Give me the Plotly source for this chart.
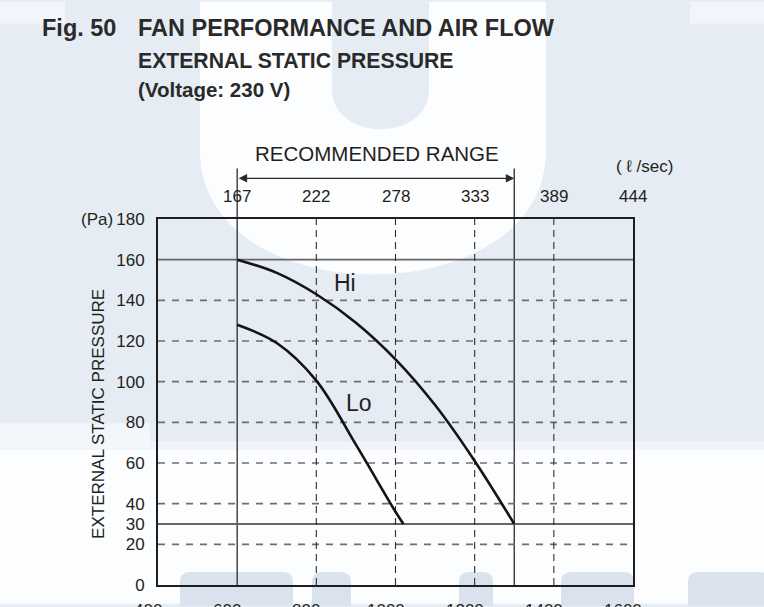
import plotly.graph_objects as go

# Fan curves: air flow (m3/h) against external static pressure (Pa)
hi_flow = [600, 700, 800, 900, 1000, 1100, 1200, 1300]
hi_pressure = [160, 153.5, 143, 129, 111, 88.5, 61, 30]
lo_flow = [600, 700, 800, 900, 1000, 1020]
lo_pressure = [128, 119, 100.5, 69, 36, 30]

# Axis ticks
flow_ticks = [400, 600, 800, 1000, 1200, 1400, 1600]
lsec_ticks = [600, 800, 1000, 1200, 1400, 1600]
lsec_labels = ["167", "222", "278", "333", "389", "444"]
pressure_ticks = [0, 20, 30, 40, 60, 80, 100, 120, 140, 160, 180]

# Reference lines
dashed_pressure = [20, 40, 60, 80, 100, 120, 140]
solid_pressure = [30, 160]
dashed_flow = [800, 1000, 1200, 1400]
recommended_range = [600, 1300]

W, H = 764, 607
ML, MR, MT, MB = 158, 131, 219, 19
PW, PH = W - ML - MR, H - MT - MB

BG = "#e5ecf4"
WHITE = "#fcfdfe"
BLOB = "#dae2ed"
INK = "#231f20"
FONT = "Liberation Sans, Arial, sans-serif"


def px(x):
    return (x - ML) / PW


def py(y):
    return (H - MB - y) / PH


def path(points_cmds):
    out = []
    for cmd, pts in points_cmds:
        coords = " ".join(f"{px(a):.4f},{py(b):.4f}" for a, b in pts)
        out.append(f"{cmd} {coords}" if coords else cmd)
    return " ".join(out)


shapes = []


def bg_path(p, color):
    shapes.append(dict(type="path", xref="paper", yref="paper", path=p,
                       fillcolor=color, line=dict(width=0), layer="below"))


def bg_rect(x0, y0, x1, y1, color):
    shapes.append(dict(type="rect", xref="paper", yref="paper",
                       x0=px(x0), x1=px(x1), y0=py(y0), y1=py(y1),
                       fillcolor=color, line=dict(width=0), layer="below"))


# pale background artwork
bg_rect(0, 450, W, H, WHITE)
bg_rect(0, 443, W, 452, "#f1f5f9")
bg_rect(0, 425, 150, 450, "#f3f6fa")
bg_rect(0, 0, 65, 22, "#f2f5f9")
bg_rect(690, 0, W, 22, "#f2f5f9")
bg_path(path([("M", [(200, 0)]), ("L", [(200, 150)]),
              ("C", [(200, 235), (290, 275), (373, 275)]),
              ("C", [(456, 275), (546, 235), (546, 150)]),
              ("L", [(546, 0)]), ("Z", [])]), WHITE)
bg_path(path([("M", [(332, 0)]), ("L", [(332, 88)]),
              ("C", [(332, 142), (429, 142), (429, 88)]),
              ("L", [(429, 0)]), ("Z", [])]), BG)
for x0, x1 in [(180, 293), (312, 351), (459, 493), (561, 634), (688, 770)]:
    bg_path(path([("M", [(x0, H + 2)]), ("L", [(x0, 586)]),
                  ("C", [(x0, 576), (x0 + 6, 575), (x0 + 12, 575)]),
                  ("L", [(x1 - 12, 575)]),
                  ("C", [(x1 - 6, 575), (x1, 576), (x1, 586)]),
                  ("L", [(x1, H + 2)]), ("Z", [])]), BLOB)

# recommended-range limits, running up to the arrow
for f in recommended_range:
    shapes.append(dict(type="line", xref="x", yref="paper", x0=f, x1=f,
                       y0=0, y1=py(168), line=dict(color="#2a2a2a", width=1.3),
                       layer="below"))

# grid
for p in dashed_pressure:
    shapes.append(dict(type="line", xref="x", yref="y", x0=400, x1=1600, y0=p, y1=p,
                       line=dict(color="#6e6e6e", width=1.6, dash="7px,7px"), layer="below"))
for p in solid_pressure:
    shapes.append(dict(type="line", xref="x", yref="y", x0=400, x1=1600, y0=p, y1=p,
                       line=dict(color="#666666", width=1.8), layer="below"))
for f in dashed_flow:
    shapes.append(dict(type="line", xref="x", yref="y", x0=f, x1=f, y0=0, y1=180,
                       line=dict(color="#2e2e2e", width=1.1, dash="7px,5px"), layer="below"))

fig = go.Figure()
fig.add_trace(go.Scatter(x=hi_flow, y=hi_pressure, mode="lines", name="Hi",
                         line=dict(color="#141414", width=2.6, shape="spline", smoothing=1),
                         hoverinfo="skip"))
fig.add_trace(go.Scatter(x=lo_flow, y=lo_pressure, mode="lines", name="Lo",
                         line=dict(color="#141414", width=2.6, shape="spline", smoothing=1),
                         hoverinfo="skip"))

ann = []


def text(x, y, s, size, xanchor="center", bold=False, xref="paper", yref="paper", **kw):
    ann.append(dict(x=x, y=y, xref=xref, yref=yref, text=f"<b>{s}</b>" if bold else s,
                    showarrow=False, xanchor=xanchor, yanchor="middle",
                    font=dict(family=FONT, size=size, color=kw.pop("color", INK)), **kw))


# headings
text(px(40), py(26), "Fig. 50", 23.5, xanchor="left", bold=True, color="#2a2a2a")
text(px(136), py(26), "FAN PERFORMANCE AND AIR FLOW", 23.5, xanchor="left", bold=True, color="#2a2a2a")
text(px(136), py(59.5), "EXTERNAL STATIC PRESSURE", 21.2, xanchor="left", bold=True, color="#2a2a2a")
text(px(136), py(88), "(Voltage: 230 V)", 20.5, xanchor="left", bold=True, color="#2a2a2a")

# recommended range label and arrow
text(px(377), py(153), "RECOMMENDED RANGE", 20.5)
ann.append(dict(x=recommended_range[1], y=py(178), xref="x", yref="paper",
                ax=recommended_range[0], ay=0, axref="x", ayref="pixel",
                text="", showarrow=True, arrowside="end+start", arrowhead=2,
                arrowsize=1.3, arrowwidth=1.3, arrowcolor="#2a2a2a",
                standoff=0, startstandoff=0))

# l/sec scale along the top
for f, lab in zip(lsec_ticks, lsec_labels):
    text(f, py(196.5), lab, 17, xref="x")
text(px(614), py(166), "( ℓ /sec)", 17, xanchor="left")

# m3/h scale along the bottom
for f in flow_ticks:
    text(f, py(614), str(f), 17, xref="x", xshift=-10)

# pressure axis units and title
text(px(115), py(219), "(Pa)", 17, xanchor="right")
text(px(99), py(415.5), "EXTERNAL STATIC PRESSURE", 17, textangle=-90)

# curve names
text(872, 148.4, "Hi", 23, xref="x", yref="y")
text(907, 89.3, "Lo", 23, xref="x", yref="y")

fig.update_layout(
    width=W, height=H, autosize=False,
    margin=dict(l=ML, r=MR, t=MT, b=MB, pad=0),
    paper_bgcolor=BG, plot_bgcolor="rgba(0,0,0,0)",
    showlegend=False,
    font=dict(family=FONT, color=INK),
    shapes=shapes, annotations=ann,
    xaxis=dict(range=[400, 1600], showgrid=False, zeroline=False, showticklabels=False,
               showline=True, mirror=True, linecolor="#1e1e1e", linewidth=2, ticks="",
               fixedrange=True),
    yaxis=dict(range=[0, 180], tickmode="array", tickvals=pressure_ticks,
               ticktext=[str(v) for v in pressure_ticks], tickfont=dict(size=17, color=INK),
               showgrid=False, zeroline=False, showline=True, mirror=True,
               linecolor="#1e1e1e", linewidth=2, ticks="", ticklabelstandoff=8,
               fixedrange=True),
)

fig.write_html("out.html", config={"displayModeBar": False})
